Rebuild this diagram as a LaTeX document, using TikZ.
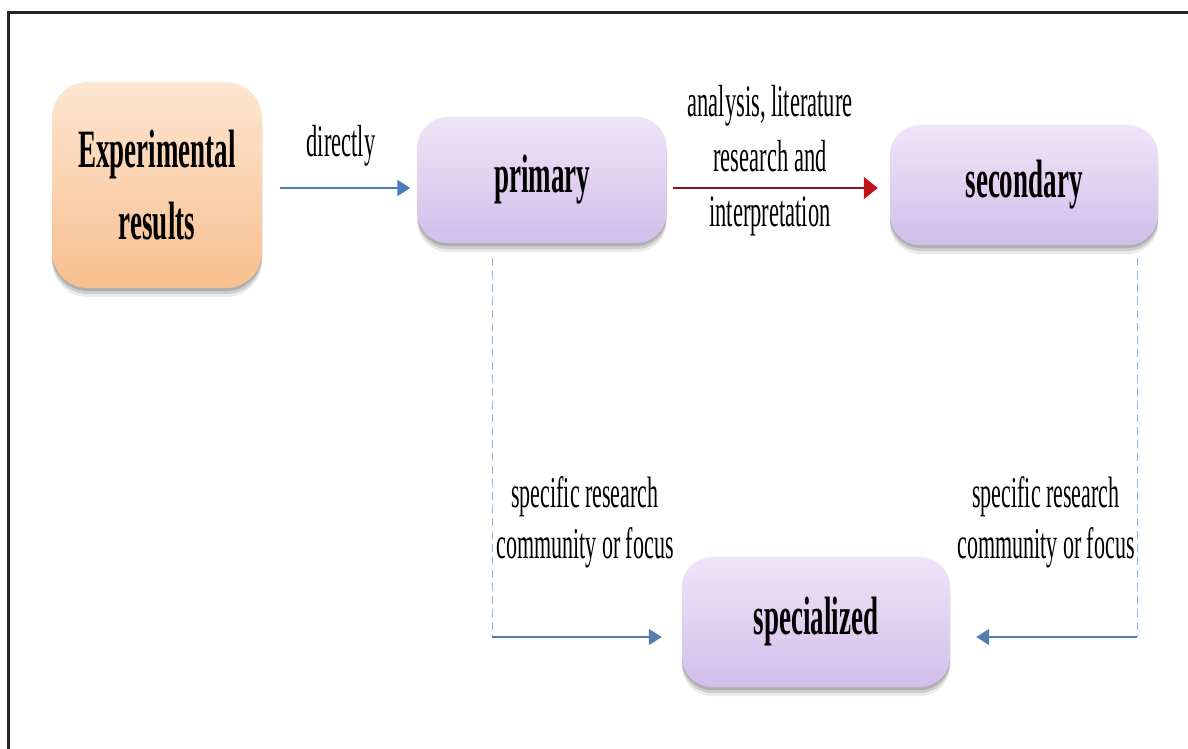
\documentclass[tikz,border=0pt]{standalone}
\usepackage{fontspec}
\newfontfamily\cond[FakeStretch=0.5]{Liberation Serif}
\usetikzlibrary{arrows.meta,shadows,calc}
\definecolor{orTop}{HTML}{FDE6D2}
\definecolor{orBot}{HTML}{F8BF8E}
\definecolor{lvTop}{HTML}{EFE5F6}
\definecolor{lvBot}{HTML}{D2BEEB}
\definecolor{arBlue}{HTML}{4A7EBB}
\definecolor{dashBlue}{HTML}{8FB6DD}
\definecolor{arRed}{HTML}{C0141C}
\tikzset{
  boxbase/.style={rounded corners=30pt, draw=none, text=black,
    font={\cond\bfseries\fontsize{54}{72}\selectfont}, align=center,
    drop shadow={opacity=0.08, shadow xshift=0pt, shadow yshift=-9pt, fill=black},
    drop shadow={opacity=0.12, shadow xshift=0pt, shadow yshift=-6pt, fill=black},
    drop shadow={opacity=0.15, shadow xshift=0pt, shadow yshift=-3pt, fill=black}},
  orangebox/.style={boxbase, top color=orTop, bottom color=orBot, rounded corners=36pt},
  lavbox/.style={boxbase, top color=lvTop, bottom color=lvBot},
  lbl/.style={font={\cond\fontsize{45}{55}\selectfont}, align=center, text=black},
  lbl2/.style={font={\cond\fontsize{44}{51}\selectfont}, align=center, text=black},
  bluearrow/.style={draw=arBlue, line width=1.4pt, -{Triangle[length=13pt,width=16pt]}},
  redarrow/.style={draw=arRed!80!black, line width=1.6pt, -{Triangle[length=14pt,width=22pt,color=arRed]}},
  dashline/.style={draw=dashBlue, line width=1pt, dash pattern=on 8pt off 5pt},
  frameline/.style={draw=black!85, line width=2.6pt}
}
\begin{document}
\begin{tikzpicture}[x=1pt,y=-1pt]
\useasboundingbox (0,0) rectangle (1188,749);
\fill[white] (0,0) rectangle (1188,749);
% frame
\coordinate (fTL) at (8.5,12.5);
\coordinate (fTR) at (1188,12.5);
\coordinate (fBL) at (8.5,749);
\draw[frameline] (fBL) -- (fTL) -- (fTR);
% boxes
\node[orangebox, minimum width=210pt, minimum height=206pt] (exp) at (157,185) {Experimental\\results};
\node[lavbox, minimum width=249pt, minimum height=126pt] (primary) at (542,180) {primary};
\node[lavbox, minimum width=268pt, minimum height=120pt] (secondary) at (1024,185) {secondary};
\node[lavbox, minimum width=268pt, minimum height=130pt] (specialized) at (816,622) {specialized};
% labels
\node[lbl] (ldirect) at (341,146) {directly};
\node[lbl] (lanalysis) at (770,161) {analysis, literature\\research and\\interpretation};
\node[lbl2] (lspecL) at (585,522) {specific research\\community or focus};
\node[lbl2] (lspecR) at (1046,522) {specific research\\community or focus};
% connectors
\draw[bluearrow] ($(exp.east)+(18,3)$) -- ($(primary.west)+(-7,8)$);
\draw[redarrow] ($(primary.east)+(6,8)$) -- ($(secondary.west)+(-12,3)$);
\coordinate (lTop) at ($(primary.south)+(-50,15)$);
\coordinate (lCorner) at (lTop |- 0,637);
\coordinate (rTop) at ($(secondary.south)+(113,13)$);
\coordinate (rCorner) at (rTop |- 0,637);
\draw[dashline] (lTop) -- (lCorner);
\draw[dashline] (rTop) -- (rCorner);
\draw[bluearrow, draw=arBlue!80!gray] (lCorner) -- ($(specialized.west)+(-20,15)$);
\draw[bluearrow, draw=arBlue!80!gray] (rCorner) -- ($(specialized.east)+(26,15)$);
\end{tikzpicture}
\end{document}
